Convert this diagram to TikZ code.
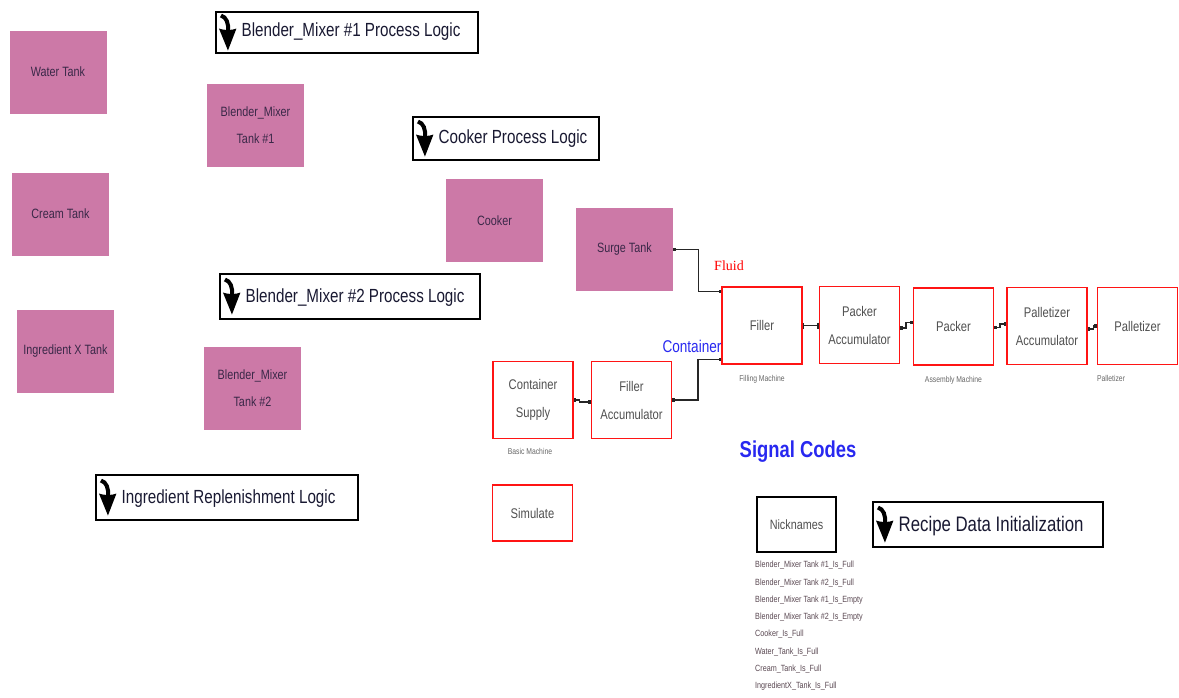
\documentclass[tikz,border=0pt]{standalone}
\usepackage{fontspec}
\setmainfont{Liberation Sans}[FakeStretch=0.8]
\newfontfamily\fluidfont{Liberation Serif}
\usetikzlibrary{arrows.meta,calc,shadows}

\definecolor{tankpink}{RGB}{204,121,167}
\definecolor{tanktext}{RGB}{58,40,72}
\definecolor{machred}{RGB}{255,20,20}
\definecolor{machtext}{RGB}{80,80,80}
\definecolor{logicink}{RGB}{25,25,50}
\definecolor{codeblue}{RGB}{40,40,240}
\definecolor{listtext}{RGB}{90,72,82}

\tikzset{
  tank/.style={fill=tankpink, minimum width=97pt, minimum height=83pt, align=center,
    font=\fontsize{13.5}{27}\selectfont, text=tanktext, inner sep=0pt},
  machine/.style={draw=machred, line width=1.3pt, fill=white, minimum width=80pt,
    minimum height=77pt, align=center, font=\fontsize{14}{28}\selectfont, text=machtext, inner sep=0pt},
  logicbox/.style={draw=black, line width=1.1pt, fill=white,
    drop shadow={shadow xshift=1.4pt, shadow yshift=-1.4pt, fill=black!70, opacity=1}, inner sep=0pt},
  logictext/.style={anchor=base west, font=\fontsize{19}{22}\selectfont, text=logicink, inner sep=0pt},
  kind/.style={font=\fontsize{8.5}{10}\selectfont, text=black!60, inner sep=0pt},
  conn/.style={line width=1.4pt, draw=black!85,
    {Square[length=2.6pt,width=3.6pt]}-{Square[length=2.6pt,width=3.6pt]}},
  barconn/.style={line width=1.4pt, draw=black!85,
    {Bar[width=6pt]}-{Bar[width=6pt]}},
}

% curved drop arrow drawn at the left end of a logic block
\newcommand\dropicon[1]{%
  \begin{scope}[shift={(#1.west)}]
    \draw[line width=4pt] (5.5,-17) .. controls (11,-15.5) and (13.5,-9) .. (12.5,-1);
    \fill (3.5,-4) .. controls (8,-2) and (17,-2) .. (21,-4) -- (12.5,18) -- cycle;
  \end{scope}}

\begin{document}
\begin{tikzpicture}[x=1pt, y=-1pt]
\useasboundingbox (0,0) rectangle (1179,697);

% storage tanks
\node[tank] (water)  at (58,72)      {Water Tank};
\node[tank] (cream)  at (60.5,214)   {Cream Tank};
\node[tank] (ingx)   at (65.5,351.5) {Ingredient X Tank};
\node[tank] (bm1)    at (255.5,125)  {Blender\_Mixer\\Tank \#1};
\node[tank] (bm2)    at (252.5,388.5){Blender\_Mixer\\Tank \#2};
\node[tank] (cooker) at (494.5,220.5){Cooker};
\node[tank] (surge)  at (624.5,249.5){Surge Tank};

% logic blocks
\node[logicbox, minimum width=262pt, minimum height=41pt] (lg1) at (347,32.5) {};
\node[logictext] (lg1t) at ($(lg1.west)+(26,4)$) {Blender\_Mixer \#1 Process Logic};
\dropicon{lg1}

\node[logicbox, minimum width=186pt, minimum height=43pt] (lgcook) at (506,138.5) {};
\node[logictext] (lgcookt) at ($(lgcook.west)+(26,5)$) {Cooker Process Logic};
\dropicon{lgcook}

\node[logicbox, minimum width=260pt, minimum height=45pt] (lg2) at (350,296.5) {};
\node[logictext] (lg2t) at ($(lg2.west)+(26,5.5)$) {Blender\_Mixer \#2 Process Logic};
\dropicon{lg2}

\node[logicbox, minimum width=262pt, minimum height=45pt] (lgingr) at (227,497.5) {};
\node[logictext] (lgingrt) at ($(lgingr.west)+(26,5.5)$) {Ingredient Replenishment Logic};
\dropicon{lgingr}

\node[logicbox, minimum width=230pt, minimum height=45pt] (lgrecipe) at (988,524.5) {};
\node[logictext, font=\fontsize{21}{24}\selectfont] (lgrecipet) at ($(lgrecipe.west)+(26,6.5)$) {Recipe Data Initialization};
\dropicon{lgrecipe}

% packaging line machines
\node[machine] (filler)  at (762,325.5)  {Filler};
\node[machine] (packacc) at (859.5,325)  {Packer\\Accumulator};
\node[machine] (packer)  at (953.5,326.5){Packer};
\node[machine] (palacc)  at (1047,326)   {Palletizer\\Accumulator};
\node[machine] (pal)     at (1137.5,326) {Palletizer};
\node[machine] (csupply) at (533,400)    {Container\\Supply};
\node[machine] (filacc)  at (631.5,400)  {Filler\\Accumulator};
\node[machine, minimum height=56pt] (sim) at (532.5,513) {Simulate};

% machine kinds
\node[kind] (fillkind)  at ($(filler.south)+(0,15)$)  {Filling Machine};
\node[kind] (asmkind)   at ($(packer.south)+(0,15)$)  {Assembly Machine};
\node[kind, anchor=west] (palkind) at ($(pal.south west)+(0,13)$) {Palletizer};
\node[kind] (basickind) at ($(csupply.south)+(-3,12)$) {Basic Machine};

% flow labels
\node[font=\fluidfont\fontsize{14}{16}\selectfont, text=red, inner sep=0pt] (fluid) at (729,266) {Fluid};
\node[font=\fontsize{17}{20}\selectfont, text=codeblue, inner sep=0pt] (contlbl) at (692,346) {Container};

% connections
\draw[conn] (surge.east) -- ++(25,0) |- ($(filler.north west)+(0,5)$);
\draw[conn] (filacc.east) -- ++(26,0) |- ($(filler.south west)+(0,-5)$);
\draw[conn] (csupply.east) -- ++(6,0) -- ++(0,2) -- ($(filacc.west)+(0,2)$);
\draw[barconn] (filler.east) -- (filler.east -| packacc.west);
\draw[conn] ($(packacc.east)+(0,3)$) -- ++(6,0) |- ($(packer.west)+(0,-4)$);
\draw[conn] ($(packer.east)+(0,1)$) -- ++(6,0) |- ($(palacc.west)+(0,-2)$);
\draw[conn] ($(palacc.east)+(0,3)$) -- ++(6,0) |- (pal.west);

% signal codes
\node[font=\bfseries\fontsize{23}{26}\selectfont, text=codeblue, inner sep=0pt] (sig) at (798,452) {Signal Codes};
\node[logicbox, minimum width=79pt, minimum height=55pt, font=\fontsize{13.5}{16}\selectfont, text=machtext] (nick) at (796.5,524.5) {Nicknames};
\node[anchor=north west, align=left, font=\fontsize{9}{17.3}\selectfont, text=listtext, inner sep=0pt] (nicklist) at (755,561) {%
Blender\_Mixer Tank \#1\_Is\_Full\\
Blender\_Mixer Tank \#2\_Is\_Full\\
Blender\_Mixer Tank \#1\_Is\_Empty\\
Blender\_Mixer Tank \#2\_Is\_Empty\\
Cooker\_Is\_Full\\
Water\_Tank\_Is\_Full\\
Cream\_Tank\_Is\_Full\\
IngredientX\_Tank\_Is\_Full};
\end{tikzpicture}
\end{document}
